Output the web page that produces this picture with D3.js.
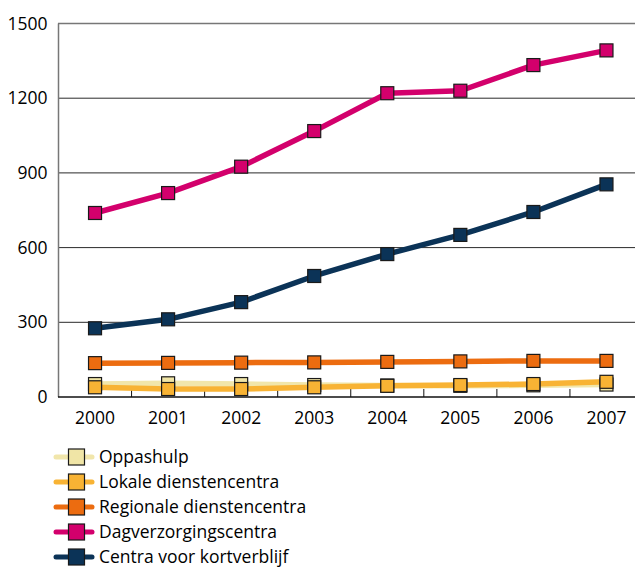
<!DOCTYPE html>
<html><head><meta charset="utf-8">
<script src="https://cdn.jsdelivr.net/npm/d3@7"></script>
<style>body{margin:0;background:#fff}svg{display:block}text{font-family:"Open Sans","Noto Sans",sans-serif;fill:#000}</style>
</head><body><svg id="c" width="635" height="568"></svg>
<script>
const years = ["2000","2001","2002","2003","2004","2005","2006","2007"];
const yTicks = [0,300,600,900,1200,1500];
const seriesNames = ["Oppashulp","Lokale dienstencentra","Regionale dienstencentra","Dagverzorgingscentra","Centra voor kortverblijf"];
const oppashulp = [52,55,52,48,46,45,47,50];
const lokale = [39,32,32,39,45,48,52,61];
const regionale = [136,137,138,139,141,143,145,145];
const dagverzorging = [739,819,925,1068,1220,1230,1333,1392];
const kortverblijf = [276,312,381,486,574,651,743,854];
const lineColors = ["#f1e6ab","#f8b334","#ec6c10","#d3006c","#0b3357"];
const fillColors = ["#f0e5a6","#f8b334","#ec6c10","#d3006c","#0b3357"];
const values = [oppashulp,lokale,regionale,dagverzorging,kortverblijf];

const svg = d3.select("#c");
const x = d3.scaleBand().domain(years).range([58.5, 643]);
const y = d3.scaleLinear().domain([0,1500]).range([397, 23.5]);
const cx = d => x(d) + x.bandwidth()/2;

svg.append("g").selectAll("line").data([300,600,900,1200]).join("line")
  .attr("x1",58).attr("x2",635).attr("y1",d=>y(d)).attr("y2",d=>y(d))
  .attr("stroke","#2a2a2a").attr("stroke-width",1);
svg.append("line").attr("x1",58).attr("x2",635).attr("y1",y(1500)).attr("y2",y(1500))
  .attr("stroke","#777").attr("stroke-width",1.5);
svg.append("line").attr("x1",58.5).attr("x2",58.5).attr("y1",y(1500)).attr("y2",y(0))
  .attr("stroke","#777").attr("stroke-width",1.5);

svg.append("g").selectAll("text").data(yTicks).join("text")
  .attr("x",47.5).attr("y",d=>y(d)).attr("dy","0.35em").attr("text-anchor","end")
  .attr("font-size",17.5).text(d=>d);

svg.append("line").attr("x1",58).attr("x2",635).attr("y1",y(0)).attr("y2",y(0))
  .attr("stroke","#111").attr("stroke-width",1.5);
svg.append("g").selectAll("line").data(years.slice(1)).join("line")
  .attr("x1",d=>x(d)).attr("x2",d=>x(d)).attr("y1",y(0)).attr("y2",y(0)-8)
  .attr("stroke","#111").attr("stroke-width",1);
svg.append("g").selectAll("text").data(years).join("text")
  .attr("x",d=>cx(d)).attr("y",y(0)+21).attr("dy","0.35em").attr("text-anchor","middle")
  .attr("font-size",17.5).text(d=>d);

const line = d3.line().x((d,i)=>cx(years[i])).y(d=>y(d)).curve(d3.curveLinear);
const sz = 13;
values.forEach((vals,k)=>{
  svg.append("path").attr("d",line(vals)).attr("fill","none")
    .attr("stroke",lineColors[k]).attr("stroke-width",5.5).attr("stroke-linejoin","round");
});
values.forEach((vals,k)=>{
  svg.append("g").selectAll("rect").data(vals).join("rect")
    .attr("x",(d,i)=>cx(years[i])-sz/2).attr("y",d=>y(d)-sz/2)
    .attr("width",sz).attr("height",sz)
    .attr("fill",fillColors[k]).attr("stroke","#1a1a1a").attr("stroke-width",1.2);
});

const lg = svg.append("g");
seriesNames.forEach((n,k)=>{
  const ly = 457 + k*25;
  lg.append("line").attr("x1",56).attr("x2",92).attr("y1",ly).attr("y2",ly)
    .attr("stroke",lineColors[k]).attr("stroke-width",5).attr("stroke-linecap","round");
  lg.append("rect").attr("x",68.5).attr("y",ly-8).attr("width",16).attr("height",16)
    .attr("fill",fillColors[k]).attr("stroke","#1a1a1a").attr("stroke-width",1.2);
  lg.append("text").attr("x",99).attr("y",ly).attr("dy","0.32em").attr("font-size",17.5).text(n);
});
</script></body></html>
